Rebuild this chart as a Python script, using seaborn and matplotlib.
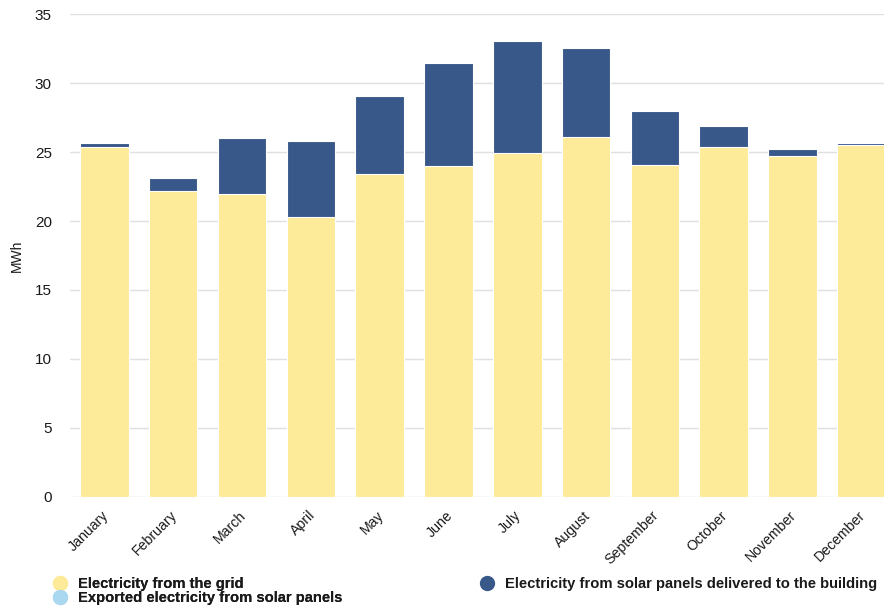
import matplotlib
matplotlib.use("Agg")
import matplotlib.pyplot as plt
import matplotlib.transforms as mtransforms
from matplotlib.lines import Line2D
import seaborn as sns
import pandas as pd

months = ["January", "February", "March", "April", "May", "June",
          "July", "August", "September", "October", "November", "December"]
grid_mwh = [25.39, 22.20, 21.94, 20.31, 23.39, 24.01, 24.91, 26.07, 24.09, 25.37, 24.72, 25.52]
solar_mwh = [0.26, 0.94, 4.08, 5.52, 5.66, 7.46, 8.15, 6.46, 3.89, 1.53, 0.48, 0.12]
exported_mwh = [0, 0, 0, 0, 0, 0, 0, 0, 0, 0, 0, 0]
y_ticks = [0, 5, 10, 15, 20, 25, 30, 35]

GRID_C = "#feeb99"
SOLAR_C = "#385889"
EXPORT_C = "#aad8f0"
TEXT_C = "#1a1a1a"

df = pd.DataFrame({
    "month": months,
    "grid": grid_mwh,
    "solar": solar_mwh,
    "exported": exported_mwh,
})
df["grid_plus_solar"] = df["grid"] + df["solar"]

sns.set_theme(style="white")
plt.rcParams["font.family"] = ["Liberation Sans", "DejaVu Sans"]

W, H = 884, 611
fig = plt.figure(figsize=(W / 100, H / 100), dpi=100)
left_px, right_px, top_px, bottom_px = 70, 895.7, 14.3, 496.6
ax = fig.add_axes([left_px / W, (H - bottom_px) / H,
                   (right_px - left_px) / W, (bottom_px - top_px) / H])

# stacked columns: solar on top of grid electricity
sns.barplot(data=df, x="month", y="grid_plus_solar", color=SOLAR_C, saturation=1,
            width=0.705, edgecolor="white", linewidth=0.8, ax=ax, zorder=3)
sns.barplot(data=df, x="month", y="grid", color=GRID_C, saturation=1,
            width=0.705, edgecolor="white", linewidth=0.8, ax=ax, zorder=4)

ax.set_ylim(0, 35)
ax.set_xlim(-0.5, 11.5)
ax.set_yticks(y_ticks)
ax.set_yticklabels([str(v) for v in y_ticks], fontsize=11, color=TEXT_C)
ax.tick_params(axis="y", length=0, pad=13)
ax.tick_params(axis="x", length=0, pad=8.5)
ax.grid(axis="y", color="#e0e0e0", linewidth=1.0, zorder=0)
ax.grid(axis="x", visible=False)
for s in ax.spines.values():
    s.set_visible(False)
ax.set_axisbelow(True)

ax.set_xticks(range(len(months)))
ax.set_xticklabels(months, rotation=45, ha="right", va="top",
                   rotation_mode="anchor", fontsize=10.2, color=TEXT_C)
shift = mtransforms.ScaledTranslation(-3 / 100, 0, fig.dpi_scale_trans)
for lbl in ax.get_xticklabels():
    lbl.set_transform(lbl.get_transform() + shift)
ax.set_xlabel("")
ax.set_ylabel("")
fig.text(17 / W, 1 - 256 / H, "MWh", rotation=90, ha="center", va="center",
         fontsize=10, color=TEXT_C)

def dot(c):
    return Line2D([0], [0], marker="o", linestyle="none", markersize=10,
                  markerfacecolor=c, markeredgecolor=c)

leg_kw = dict(frameon=False, prop={"weight": "bold", "size": 10.6},
              handlelength=0.8, handletextpad=0.85, labelspacing=0.03,
              borderaxespad=0, borderpad=0, labelcolor=TEXT_C)
leg1 = fig.legend([dot(GRID_C), dot(EXPORT_C)],
                  ["Electricity from the grid", "Exported electricity from solar panels"],
                  loc="upper left", bbox_to_anchor=(54 / W, 1 - 577 / H), **leg_kw)
fig.add_artist(leg1)
fig.legend([dot(SOLAR_C)], ["Electricity from solar panels delivered to the building"],
           loc="upper left", bbox_to_anchor=(481 / W, 1 - 577 / H), **leg_kw)

fig.savefig("out.png", dpi=100)
